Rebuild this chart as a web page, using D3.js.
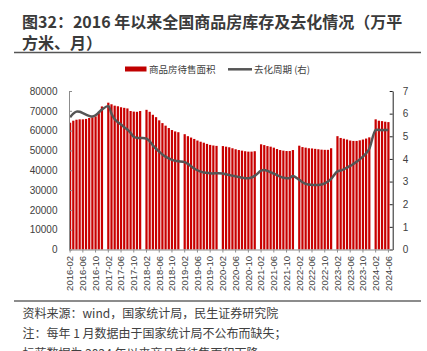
<!DOCTYPE html>
<html>
<head>
<meta charset="utf-8">
<script src="https://cdn.jsdelivr.net/npm/d3@7"></script>
<style>
  body { margin: 0; background: #fff; }
  svg { display: block; }
</style>
</head>
<body>
<div id="chart"></div>
<script>
// months shown on the category axis (January is kept as an empty slot)
const years = [2016, 2017, 2018, 2019, 2020, 2021, 2022, 2023, 2024];
const months = ['01', '02', '03', '04', '05', '06', '07', '08', '09', '10', '11', '12'];

// 商品房待售面积（万平方米）, Feb..Dec of each year, null = January
const stock2016 = [64000, 65000, 65500, 65700, 65700, 65900, 66400, 66700, 67200, 68800, 72200];
const stock2017 = [null, 74100, 73300, 72600, 72300, 71800, 71500, 71200, 69900, 69600, 69500, 69900];
const stock2018 = [null, 70500, 69500, 68000, 66800, 65200, 63800, 62500, 61300, 60300, 59600, 59200];
const stock2019 = [null, 58200, 57200, 56500, 55800, 55000, 54400, 53900, 53300, 52800, 52500, 52300];
const stock2020 = [null, 52200, 51900, 51600, 51100, 50600, 50200, 49900, 49600, 49400, 49400, 49600];
const stock2021 = [null, 53100, 52700, 52200, 51900, 51400, 50700, 50200, 49900, 49700, 49700, 50200];
const stock2022 = [null, 52400, 51700, 51400, 51100, 51000, 50800, 50600, 50400, 50300, 50300, 51100];
const stock2023 = [null, 57200, 56300, 55900, 55500, 55000, 54800, 54800, 55100, 55500, 56000, 56600];
const stock2024 = [null, 65700, 65000, 64800, 64500, 64300, null];

// 去化周期（月）
const cycle2016 = [5.84, 6.0, 6.09, 6.08, 6.02, 5.96, 5.9, 5.87, 5.93, 6.05, 6.18];
const cycle2017 = [null, 6.33, 6.0, 5.75, 5.62, 5.52, 5.4, 5.3, 5.15, 4.98, 4.93, 4.92];
const cycle2018 = [null, 4.9, 4.78, 4.6, 4.45, 4.32, 4.2, 4.1, 4.02, 3.96, 3.92, 3.9];
const cycle2019 = [null, 3.86, 3.78, 3.68, 3.58, 3.5, 3.44, 3.4, 3.39, 3.37, 3.36, 3.37];
const cycle2020 = [null, 3.36, 3.32, 3.29, 3.26, 3.23, 3.2, 3.17, 3.15, 3.15, 3.18, 3.25];
const cycle2021 = [null, 3.48, 3.51, 3.47, 3.41, 3.35, 3.28, 3.22, 3.17, 3.15, 3.16, 3.25];
const cycle2022 = [null, 3.08, 2.97, 2.9, 2.87, 2.85, 2.85, 2.85, 2.87, 2.92, 3.0, 3.12];
const cycle2023 = [null, 3.45, 3.49, 3.54, 3.62, 3.69, 3.78, 3.88, 3.98, 4.1, 4.25, 4.45];
const cycle2024 = [null, 5.28, 5.28, 5.27, 5.28, 5.28, null];

const leftTicks = [0, 10000, 20000, 30000, 40000, 50000, 60000, 70000, 80000];
const rightTicks = [0, 1, 2, 3, 4, 5, 6, 7];

const stock = [].concat(stock2016, stock2017, stock2018, stock2019, stock2020, stock2021, stock2022, stock2023, stock2024);
const cycle = [].concat(cycle2016, cycle2017, cycle2018, cycle2019, cycle2020, cycle2021, cycle2022, cycle2023, cycle2024);

const categories = [];
years.forEach(y => {
    months.forEach(m => {
        if (y === 2016 && m === '01') return;
        if (y === 2024 && +m > 7) return;
        categories.push(y + '-' + m);
    });
});

const data = categories.map((c, i) => ({cat: c, stock: stock[i], cycle: cycle[i]}));

const width = 427;
const height = 351;
const plot = {left: 69, right: 392.7, top: 91, bottom: 249.5};
const cjk = '"Noto Sans CJK SC", "Noto Sans", sans-serif';
const num = '"Liberation Sans", Arial, sans-serif';

const svg = d3.select('#chart').append('svg')
    .attr('width', width)
    .attr('height', height);

svg.append('rect').attr('width', width).attr('height', height).attr('fill', '#fff');

// title
svg.append('text')
    .attr('x', 22).attr('y', 28)
    .attr('font-family', cjk).attr('font-size', 16).attr('font-weight', 'bold')
    .attr('fill', '#3a3a3a')
    .text('图32：2016 年以来全国商品房库存及去化情况（万平');
svg.append('text')
    .attr('x', 22).attr('y', 48.5)
    .attr('font-family', cjk).attr('font-size', 16).attr('font-weight', 'bold')
    .attr('fill', '#3a3a3a')
    .text('方米、月）');

svg.append('line')
    .attr('x1', 14).attr('x2', 421).attr('y1', 52.5).attr('y2', 52.5)
    .attr('stroke', '#555').attr('stroke-width', 1.5);

// scales
const x = d3.scaleBand()
    .domain(categories)
    .range([plot.left, plot.right])
    .paddingInner(0.3)
    .paddingOuter(0);

const yLeft = d3.scaleLinear().domain([0, 80000]).range([plot.bottom, plot.top]);
const yRight = d3.scaleLinear().domain([0, 7]).range([plot.bottom, plot.top]);

// bars
svg.append('g')
    .selectAll('rect')
    .data(data.filter(d => d.stock != null))
    .join('rect')
        .attr('x', d => x(d.cat))
        .attr('y', d => yLeft(d.stock))
        .attr('width', x.bandwidth())
        .attr('height', d => yLeft(0) - yLeft(d.stock))
        .attr('fill', '#C80000');

// line (points connected across the missing January slots)
const line = d3.line()
    .x(d => x(d.cat) + x.bandwidth() / 2)
    .y(d => yRight(d.cycle))
    .curve(d3.curveCatmullRom.alpha(0.5));

svg.append('path')
    .datum(data.filter(d => d.cycle != null))
    .attr('d', line)
    .attr('fill', 'none')
    .attr('stroke', '#555')
    .attr('stroke-width', 2.5)
    .attr('stroke-linejoin', 'round');

// axes
const leftAxis = svg.append('g')
    .attr('transform', `translate(${plot.left},0)`)
    .call(d3.axisLeft(yLeft).tickValues(leftTicks).tickFormat(d3.format('d'))
        .tickSizeInner(-3).tickSizeOuter(0).tickPadding(11.5));
leftAxis.select('.domain').attr('stroke', '#8c8c8c');
leftAxis.selectAll('line').attr('stroke', '#8c8c8c');
leftAxis.selectAll('text').attr('font-family', num).attr('font-size', 10).attr('fill', '#404040');

const rightAxis = svg.append('g')
    .attr('transform', `translate(${plot.right},0)`)
    .call(d3.axisRight(yRight).tickValues(rightTicks).tickFormat(d3.format('d'))
        .tickSizeInner(-3).tickSizeOuter(0).tickPadding(10));
rightAxis.select('.domain').attr('stroke', '#222');
rightAxis.selectAll('line').attr('stroke', '#222');
rightAxis.selectAll('text').attr('font-family', num).attr('font-size', 10).attr('fill', '#404040');

const bottomAxis = svg.append('g')
    .attr('transform', `translate(0,${plot.bottom})`)
    .call(d3.axisBottom(x).tickValues(categories.filter((c, i) => i % 4 === 0)).tickSizeInner(3).tickSizeOuter(0));
bottomAxis.select('.domain').attr('stroke', '#8c8c8c');
bottomAxis.selectAll('line').attr('stroke', '#8c8c8c');
bottomAxis.selectAll('text')
    .attr('font-family', num).attr('font-size', 9.5).attr('fill', '#404040')
    .attr('transform', 'rotate(-90)')
    .attr('text-anchor', 'end')
    .attr('x', -6.5)
    .attr('y', 0)
    .attr('dy', '0.35em');

// legend
svg.append('rect')
    .attr('x', 125).attr('y', 66.5).attr('width', 21.5).attr('height', 5)
    .attr('fill', '#C00000');
svg.append('text')
    .attr('x', 149).attr('y', 72.5)
    .attr('font-family', cjk).attr('font-size', 9.5).attr('fill', '#404040')
    .text('商品房待售面积');
svg.append('line')
    .attr('x1', 228).attr('x2', 252).attr('y1', 69.3).attr('y2', 69.3)
    .attr('stroke', '#555').attr('stroke-width', 2.5);
svg.append('text')
    .attr('x', 254).attr('y', 72.5)
    .attr('font-family', cjk).attr('font-size', 9.5).attr('fill', '#404040')
    .text('去化周期 (右)');

// footer
svg.append('line')
    .attr('x1', 14).attr('x2', 421).attr('y1', 301).attr('y2', 301)
    .attr('stroke', '#666').attr('stroke-width', 1.5);

const notes = [
    '资料来源：wind，国家统计局，民生证券研究院',
    '注：每年 1 月数据由于国家统计局不公布而缺失；',
    '标蓝数据为 2024 年以来商品房待售面积下降'
];
svg.selectAll('.note')
    .data(notes)
    .join('text')
        .attr('class', 'note')
        .attr('x', 22.5)
        .attr('y', (d, i) => 317.5 + i * 20)
        .attr('font-family', cjk).attr('font-size', 12).attr('fill', '#404040')
        .text(d => d);
</script>
</body>
</html>
